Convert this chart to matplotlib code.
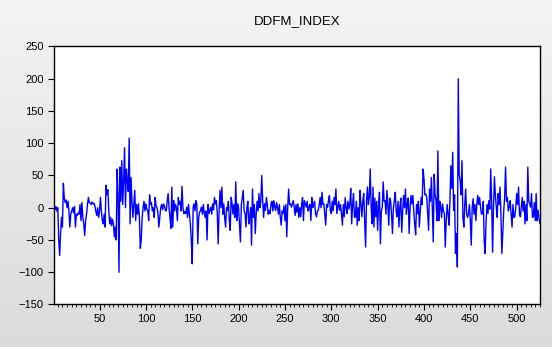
# DDFM_INDEX series, EViews style line chart
import numpy as np
from matplotlib import pyplot as plt
from matplotlib.ticker import MultipleLocator

title = "DDFM_INDEX"

ddfm = [
    0, -3, 2, -5, 0, -50, -74, -40, -15, -30, 38, 15, 8, 12, 0, 10, -5, -30, -10, -5, 0, -8, 2, -30, -10,
    -12, -8, -10, 5, -20, 8, -15, -25, -43, -20, -10, 5, 16, 8, 7, 5, 9, 6, 7, 3, -5, -12, 0, -15, -5,
    16, -5, -20, -25, -10, -30, 35, 20, 28, -5, -25, -15, -28, -18, -25, -45, -30, -50, 60, 20, -100, 63, 10, 73, 5,
    40, 93, 0, 60, 40, 25, 108, -25, 47, 10, -15, 5, 27, -20, 5, -10, 6, -15, -63, -50, -15, 0, 10, -5, 6,
    -2, -4, -20, 20, 5, 8, -5, 0, -15, 16, 3, 0, -8, -30, -15, 0, 5, -3, 6, 3, -4, -5, 10, 22, 0,
    -15, -32, 32, -30, 11, -5, 5, 0, -20, 16, 5, 10, -5, 33, 0, -9, -6, -9, 1, -15, 5, -10, -25, -50, -87,
    1, 6, -5, 11, 5, -56, -15, -7, -4, 1, -10, 5, -8, -15, -5, -50, 5, -9, -4, 1, -10, 6, -3, 16, 6,
    11, -8, -56, -5, 27, 0, 32, -10, 6, -15, -30, 0, -4, 10, -20, -35, 16, 6, -10, 5, -15, 40, -20, 6, 0,
    -25, -53, 5, 16, 27, -5, -9, -30, 1, 10, -25, -15, 0, -58, 29, -15, 5, -40, -9, 10, -5, 22, 0, 10, 50,
    11, -15, 6, -4, 16, 5, -10, -4, -9, 6, 10, -5, 11, 1, -4, 8, 1, -10, 5, -15, -27, -5, -9, 3, -20,
    5, -45, 0, 29, 5, 6, 1, 6, 11, 1, -12, 5, -7, 6, -15, 0, -14, 5, 16, -20, 11, 6, 1, 10, -5,
    1, 5, -20, 16, 0, 6, 10, -9, -14, -5, -4, 5, 16, 0, 24, 5, 6, -10, -27, 5, 1, 11, 19, -5, -9,
    10, -5, 16, 5, 29, -9, 1, 10, -4, 5, -10, -27, 5, -14, 16, 0, -9, 10, -2, 6, 30, -25, 5, 22, -15,
    -14, 10, -27, 0, -20, 27, 5, -14, 10, 22, -20, -61, 10, 32, 5, 16, 60, 1, -25, 32, -30, 15, -14, 10, -35,
    5, 24, -56, -5, 1, 40, 10, 11, -10, 27, 5, -27, 15, 11, -10, -40, 0, 11, 24, -5, -14, 10, -30, 1, 15,
    -38, -5, 19, 0, 29, -10, 6, 15, -40, 0, 19, 6, 19, -5, -25, -42, 5, -9, 10, -30, -5, 16, 5, 60, 45,
    20, 21, 16, -10, -35, 29, 10, 47, 0, -53, 52, 20, 11, -20, 88, -20, 10, 1, -15, 6, -5, -9, -61, -20, 5,
    -9, -27, 10, 65, 30, 86, -4, 20, -71, -40, -92, 200, 52, 42, 20, 73, -15, -30, 5, 29, -10, -15, -9, 5, -20,
    -58, 1, 14, -10, 5, -20, 6, 19, 5, 16, 1, -10, -9, 10, -53, -71, -20, 5, -9, 11, -2, 60, 10, -69, 0,
    48, 20, 1, -15, 22, 5, 32, -10, -71, -40, -5, 15, 63, 10, 16, -5, 1, 11, -9, -30, 5, -15, -14, 0, 22,
    5, 32, -10, -14, 1, 16, -5, 10, -25, 5, -20, 63, 10, 6, 1, 22, -15, -14, 8, -20, 22, -20, -4, -15, -24,
]
obs = np.arange(1, len(ddfm) + 1)

fig = plt.figure(figsize=(5.52, 3.47), dpi=100)

# grey gradient background like the EViews window
bg = fig.add_axes([0, 0, 1, 1], zorder=-1)
grad = np.linspace(0.955, 0.86, 256).reshape(-1, 1)
bg.imshow(np.dstack([grad, grad, grad]), aspect="auto", extent=[0, 1, 0, 1])
bg.axis("off")

ax = fig.add_axes([0.098, 0.1225, 0.880, 0.7435])
ax.set_facecolor("white")
ax.plot(obs, ddfm, color="#0000ff", lw=1.0)

ax.set_xlim(1, len(ddfm))
ax.set_ylim(-150, 250)
ax.xaxis.set_major_locator(MultipleLocator(50))
ax.xaxis.set_minor_locator(MultipleLocator(5))
ax.yaxis.set_major_locator(MultipleLocator(50))

ax.tick_params(axis="both", which="major", direction="out", length=4, width=0.8,
               labelsize=8, colors="black")
ax.tick_params(axis="x", which="minor", direction="out", length=2.5, width=0.6)
ax.tick_params(axis="y", which="minor", left=False)
ax.tick_params(axis="x", pad=3)
for s in ax.spines.values():
    s.set_linewidth(1.0)
    s.set_color("black")

# EViews labels the x axis from 50 on
ax.set_xticks([t for t in range(50, 550, 50) if t <= len(ddfm)])

for lab in ax.get_xticklabels() + ax.get_yticklabels():
    lab.set_family("Liberation Sans")

ax.set_title(title, fontsize=9.5, family="Liberation Sans", pad=16)

fig.savefig("out.png", dpi=100)
